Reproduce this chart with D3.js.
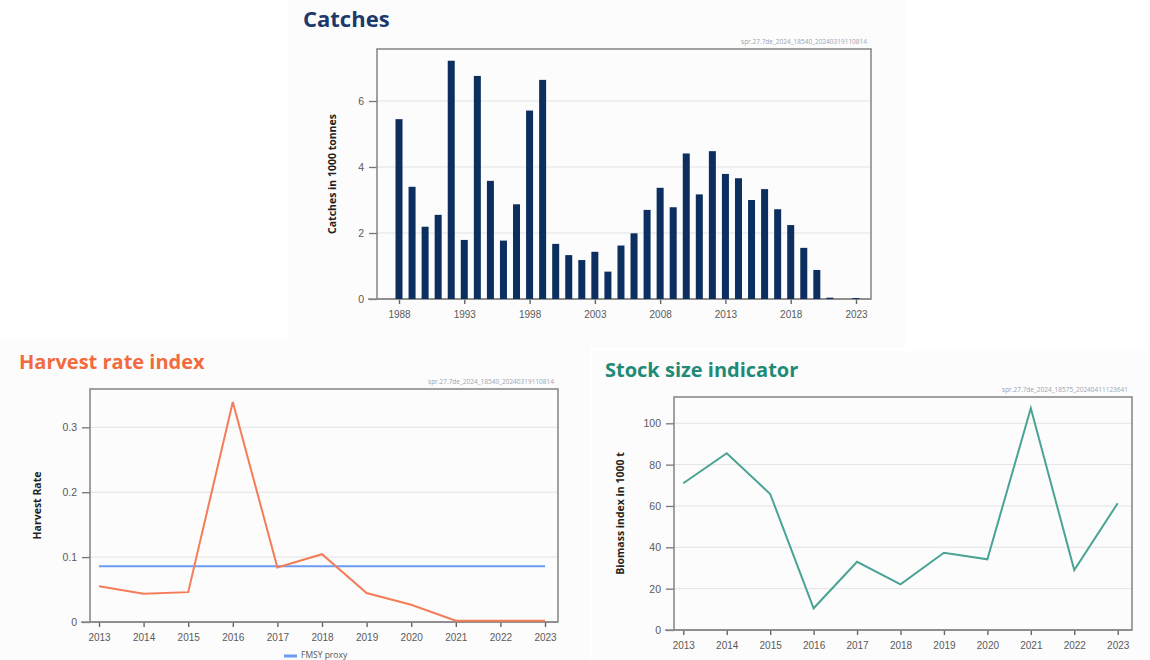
<!DOCTYPE html>
<html><head><meta charset="utf-8">
<script src="https://cdn.jsdelivr.net/npm/d3@7"></script>
<style>
html,body{margin:0;padding:0;background:#fff;}
svg{display:block;font-family:"Open Sans","DejaVu Sans",sans-serif;}
</style></head>
<body><svg id="c" width="1150" height="660"></svg>
<script>
// ---- Data ----
const catchYears = d3.range(1988, 2024);
const catchValues = [5.45,3.40,2.19,2.55,7.22,1.79,6.76,3.58,1.77,2.87,5.71,6.64,1.67,1.33,1.18,1.43,0.83,1.62,1.99,2.70,3.37,2.78,4.41,3.17,4.48,3.79,3.66,3.00,3.33,2.72,2.24,1.55,0.88,0.04,0,0.03];
const catchTicks = [1988,1993,1998,2003,2008,2013,2018,2023];
const catchYTicks = [0,2,4,6];

const hrYears = d3.range(2013, 2024);
const hrValues = [0.055,0.0435,0.046,0.339,0.084,0.1045,0.0446,0.0266,0.002,0.002,0.002];
const fmsyProxy = 0.086;
const hrYTicks = [0,0.1,0.2,0.3];

const ssYears = d3.range(2013, 2024);
const ssValues = [71,85.5,65.8,10.5,33,22.1,37.4,34.2,107.3,29,61.3];
const ssYTicks = [0,20,40,60,80,100];

const svg = d3.select("#c");

// panels background
const panels = [[288,0,617,347],[0,340,590,320],[592,351,558,309]];
svg.selectAll("rect.panel").data(panels).join("rect")
  .attr("x",d=>d[0]).attr("y",d=>d[1]).attr("width",d=>d[2]).attr("height",d=>d[3])
  .attr("fill","#fcfcfc");

function frameChart(opt){
  const g = svg.append("g");
  const {L,T,R,B} = opt;
  g.selectAll("line.grid").data(opt.yTicks.filter(v=>v!==0)).join("line")
    .attr("x1",L).attr("x2",R).attr("y1",d=>opt.y(d)).attr("y2",d=>opt.y(d))
    .attr("stroke","#e3e3e3").attr("stroke-width",1);
  g.append("rect").attr("x",L).attr("y",T).attr("width",R-L).attr("height",B-T)
    .attr("fill","none").attr("stroke","#8a8a8a").attr("stroke-width",1.6);
  const ya = d3.axisLeft(opt.y).tickValues(opt.yTicks).tickSize(8).tickPadding(5).tickFormat(opt.yFmt||(d=>d));
  const yg = g.append("g").attr("transform",`translate(${L},0)`).call(ya);
  yg.select(".domain").remove();
  yg.selectAll(".tick line").attr("stroke","#777").attr("stroke-width",1.3);
  yg.selectAll(".tick text").attr("fill","#5a5a5a").attr("font-size",10.5);
  const xa = d3.axisBottom(opt.x).tickValues(opt.xTicks).tickSize(5).tickPadding(7).tickFormat(d=>d);
  const xg = g.append("g").attr("transform",`translate(0,${B})`).call(xa);
  xg.select(".domain").remove();
  xg.selectAll(".tick line").attr("stroke","#666").attr("stroke-width",1.4);
  xg.selectAll(".tick text").attr("fill","#5a5a5a").attr("font-size",10);
  g.append("line").attr("x1",L-9).attr("x2",R).attr("y1",B).attr("y2",B).attr("stroke","#8a8a8a").attr("stroke-width",1.6);
  g.append("text").attr("transform",`translate(${opt.ylx},${(T+B)/2}) rotate(-90)`)
    .attr("text-anchor","middle").attr("font-size",10.5).attr("font-weight","bold").attr("fill","#222")
    .text(opt.ylabel);
  g.append("text").attr("x",R-4).attr("y",T-5).attr("text-anchor","end")
    .attr("font-size",6.5).attr("fill","#9aa6b4").text(opt.code);
  svg.append("text").attr("x",opt.tx).attr("y",opt.ty).attr("font-size",opt.tsize).attr("font-weight","bold")
    .attr("fill",opt.tcolor).text(opt.title);
  return g;
}

// ---- Catches ----
{
  const L=377,T=49,R=871,B=299;
  const x = d3.scaleLinear().domain([1988,2023]).range([399,856]);
  const y = d3.scaleLinear().domain([0,6]).range([B,101]);
  const g = frameChart({L,T,R,B,x,y,xTicks:catchTicks,yTicks:catchYTicks,ylx:336,
    ylabel:"Catches in 1000 tonnes",code:"spr.27.7de_2024_18540_20240319110814",
    title:"Catches",tx:303,ty:27,tsize:22,tcolor:"#1b3a6b"});
  g.selectAll("rect.bar").data(catchYears.map((yr,i)=>({yr,v:catchValues[i]}))).join("rect")
    .attr("x",d=>x(d.yr)-3.5).attr("width",7)
    .attr("y",d=>y(d.v)).attr("height",d=>B-y(d.v))
    .attr("fill","#0c2f5f");
}

// ---- Harvest rate ----
{
  const L=90,T=389,R=558,B=622;
  const x = d3.scaleLinear().domain([2013,2023]).range([99,545]);
  const y = d3.scaleLinear().domain([0,0.3]).range([B,427.3]);
  const g = frameChart({L,T,R,B,x,y,xTicks:hrYears,yTicks:hrYTicks,ylx:41,
    ylabel:"Harvest Rate",code:"spr.27.7de_2024_18540_20240319110814",yFmt:d=>d===0?"0":d3.format(".1f")(d),
    title:"Harvest rate index",tx:19,ty:369,tsize:20,tcolor:"#f26a3d"});
  g.append("line").attr("x1",x(2013)).attr("x2",x(2023)).attr("y1",y(fmsyProxy)).attr("y2",y(fmsyProxy))
    .attr("stroke","#6b9bf2").attr("stroke-width",2);
  g.append("path").datum(hrYears.map((yr,i)=>[yr,hrValues[i]]))
    .attr("d",d3.line().x(d=>x(d[0])).y(d=>y(d[1])))
    .attr("fill","none").attr("stroke","#f47d58").attr("stroke-width",2);
  g.append("line").attr("x1",284).attr("x2",297).attr("y1",656).attr("y2",656).attr("stroke","#6b9bf2").attr("stroke-width",3);
  g.append("text").attr("x",301).attr("y",658).attr("font-size",8.5).attr("fill","#555").text("FMSY proxy");
}

// ---- Stock size ----
{
  const L=674,T=397,R=1132,B=630;
  const x = d3.scaleLinear().domain([2013,2023]).range([683.3,1117.7]);
  const y = d3.scaleLinear().domain([0,100]).range([B,423.3]);
  const g = frameChart({L,T,R,B,x,y,xTicks:ssYears,yTicks:ssYTicks,ylx:624,
    ylabel:"Biomass index in 1000 t",code:"spr.27.7de_2024_18575_20240411123641",
    title:"Stock size indicator",tx:605,ty:377,tsize:20,tcolor:"#1e8a78"});
  g.append("path").datum(ssYears.map((yr,i)=>[yr,ssValues[i]]))
    .attr("d",d3.line().x(d=>x(d[0])).y(d=>y(d[1])))
    .attr("fill","none").attr("stroke","#4aa394").attr("stroke-width",2);
}
</script></body></html>
